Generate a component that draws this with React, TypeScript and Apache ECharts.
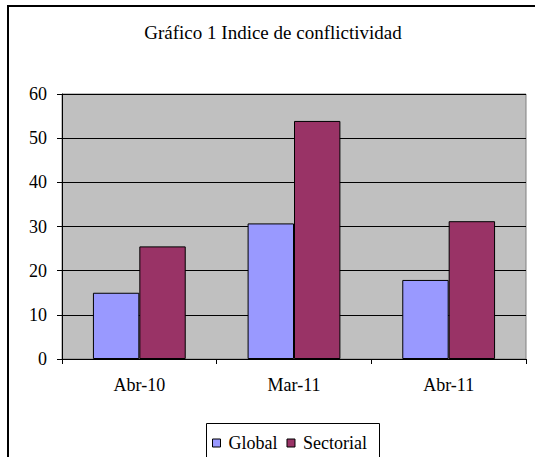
import React, { useEffect, useRef } from "react";
import * as echarts from "echarts";

const categories = ["Abr-10", "Mar-11", "Abr-11"];
const globalValues = [15, 30.7, 17.9];
const sectorialValues = [25.5, 53.9, 31.2];
const seriesNames = ["Global", "Sectorial"];
const titleText = "Gráfico 1 Indice de conflictividad";

const FONT = "Times New Roman, Liberation Serif, serif";

export default function App() {
  const ref = useRef<HTMLDivElement>(null);
  useEffect(() => {
    if (!ref.current) return;
    const chart = echarts.init(ref.current, null, { renderer: "svg" });
    chart.setOption({
      animation: false,
      backgroundColor: "#ffffff",
      textStyle: { fontFamily: FONT },
      title: {
        text: titleText,
        left: 268,
        textAlign: "center",
        top: 18,
        textStyle: { fontFamily: FONT, fontSize: 19, fontWeight: "normal", color: "#000" },
      },
      legend: {
        data: seriesNames,
        left: 207,
        top: 429,
        itemWidth: 8,
        itemHeight: 8,
        itemGap: 9,
        icon: "rect",
        itemStyle: { borderColor: "#000", borderWidth: 1 },
        textStyle: { fontFamily: FONT, fontSize: 18, color: "#000", padding: [0, 0, 0, 3] },
      },
      graphic: [
        { type: "line", shape: { x1: 7, y1: 6, x2: 540, y2: 6 }, style: { stroke: "#000", lineWidth: 2 } },
        { type: "line", shape: { x1: 8, y1: 5, x2: 8, y2: 470 }, style: { stroke: "#000", lineWidth: 2 } },
        { type: "rect", shape: { x: 206.5, y: 423.5, width: 173, height: 50 }, style: { fill: "none", stroke: "#000", lineWidth: 1 } },
      ],
      grid: {
        left: 62,
        top: 94,
        width: 464,
        height: 265,
        show: true,
        backgroundColor: "#C0C0C0",
        borderColor: "#808080",
        borderWidth: 1,
      },
      xAxis: {
        type: "category",
        data: categories,
        axisLine: { lineStyle: { color: "#000", width: 1 } },
        axisTick: { show: true, length: 5, lineStyle: { color: "#000" } },
        axisLabel: { fontFamily: FONT, fontSize: 18, color: "#000", margin: 17 },
      },
      yAxis: {
        type: "value",
        min: 0,
        max: 60,
        interval: 10,
        axisLine: { show: true, lineStyle: { color: "#000", width: 1 } },
        axisTick: { show: true, length: 5, lineStyle: { color: "#000" } },
        axisLabel: { fontFamily: FONT, fontSize: 18, color: "#000", margin: 15 },
        splitLine: { show: true, lineStyle: { color: "#000", width: 1 } },
      },
      series: [
        {
          name: seriesNames[0],
          type: "bar",
          data: globalValues,
          barGap: "0%",
          barCategoryGap: "40%",
          itemStyle: { color: "#9999FF", borderColor: "#000", borderWidth: 1 },
        },
        {
          name: seriesNames[1],
          type: "bar",
          data: sectorialValues,
          itemStyle: { color: "#993366", borderColor: "#000", borderWidth: 1 },
        },
      ],
    });
    return () => chart.dispose();
  }, []);
  return (
    <div
      ref={ref}
      style={{ position: "fixed", left: 0, top: 0, width: 535, height: 457 }}
    />
  );
}
